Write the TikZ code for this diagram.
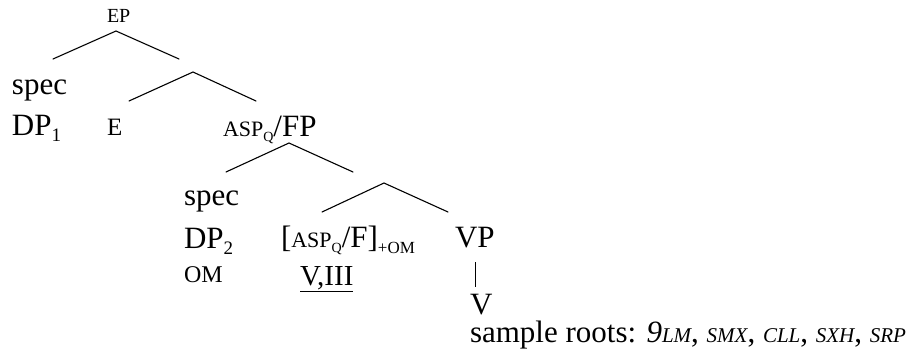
\documentclass[tikz,border=0pt]{standalone}
\usepackage{fontspec}
\setmainfont{Liberation Serif}
\newcommand{\mainsz}{\fontsize{31}{37}\selectfont}
\newcommand{\fsc}[1]{{\fontsize{22}{26}\selectfont #1}}
\newcommand{\rsc}[1]{{\fontsize{21}{25}\selectfont #1}}
\newcommand{\mysub}[1]{\raisebox{-0.22em}{\fontsize{19}{23}\selectfont #1}}
\newcommand{\mysubs}[1]{\raisebox{-0.18em}{\fontsize{14}{17}\selectfont #1}}
\newcommand{\mysubo}[1]{\raisebox{-0.2em}{\fontsize{17}{20}\selectfont #1}}
\tikzset{
  lab/.style={anchor=base west, inner sep=0pt, outer sep=0pt, font=\mainsz},
  branch/.style={line width=1.1pt, line cap=round},
  barline/.style={line width=0.9pt},
}
\begin{document}
\begin{tikzpicture}[x=1pt,y=-1pt]
\useasboundingbox (0,0) rectangle (916,356);
% labels
\node[lab, font=\fontsize{20}{24}\selectfont] (ep) at (107,23) {EP};
\node[lab] (spec1) at (12,94) {spec};
\node[lab] (dp1) at (12,135) {DP\mysub{1}};
\node[lab, font=\fontsize{25}{30}\selectfont] (e) at (107,135) {E};
\node[lab] (aspfp) at (223,136) {\fsc{ASP}\mysubs{Q}/FP};
\node[lab] (spec2) at (184,205) {spec};
\node[lab] (dp2) at (184,248) {DP\mysub{2}};
\node[lab] (brk) at (281,247) {[\fsc{ASP}\mysubs{Q}/F]\mysubo{+OM}};
\node[lab] (vp) at (455,247) {VP};
\node[lab, font=\fontsize{24}{29}\selectfont] (om) at (184,282) {OM};
\node[lab, font=\fontsize{29}{35}\selectfont] (viii) at (300,285) {\underline{V,III}};
\node[lab] (v) at (470,314) {V};
\node[lab] (roots) at (470,342) {sample roots: {\itshape 9\rsc{LM}}, {\itshape\rsc{SMX}}, {\itshape\rsc{CLL}}, {\itshape\rsc{SXH}}, {\itshape\rsc{SRP}}};
% branch points
\coordinate (a1) at (116,31); \coordinate (l1) at (53,59); \coordinate (r1) at (179,59);
\coordinate (a2) at (193,72); \coordinate (l2) at (129,101); \coordinate (r2) at (256,101);
\coordinate (a3) at (289,143); \coordinate (l3) at (226,172); \coordinate (r3) at (353,172);
\coordinate (a4) at (384,183); \coordinate (l4) at (322,212); \coordinate (r4) at (448,212);
\coordinate (b1) at (475,262); \coordinate (b2) at (475,287);
\draw[branch] (l1) -- (a1) -- (r1);
\draw[branch] (l2) -- (a2) -- (r2);
\draw[branch] (l3) -- (a3) -- (r3);
\draw[branch] (l4) -- (a4) -- (r4);
\draw[barline] (b1) -- (b2);
\end{tikzpicture}
\end{document}
